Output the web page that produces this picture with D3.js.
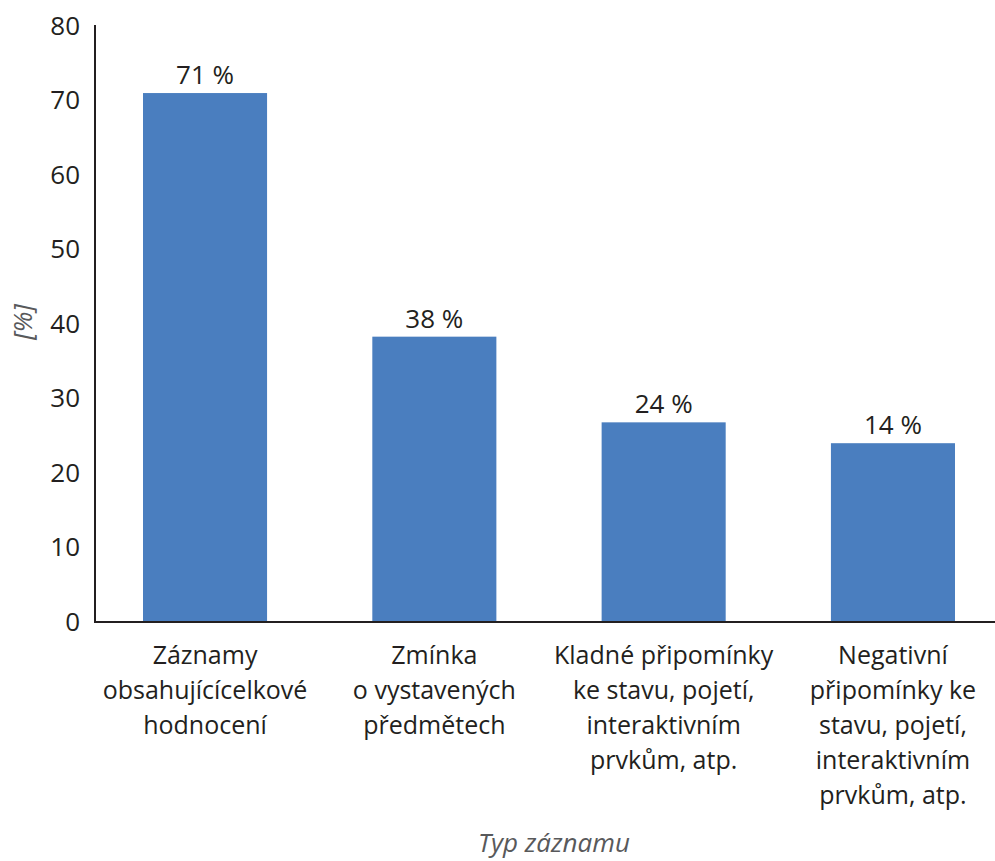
<!DOCTYPE html>
<html><head><meta charset="utf-8">
<script src="https://cdn.jsdelivr.net/npm/d3@7"></script>
<style>
html,body{margin:0;padding:0;background:#fff;}
svg{display:block;font-family:"Open Sans",sans-serif;}
</style></head>
<body><svg id="chart" width="995" height="861"></svg>
<script>
const categories = ["Záznamy obsahujícícelkové hodnocení","Zmínka o vystavených předmětech","Kladné připomínky ke stavu, pojetí, interaktivním prvkům, atp.","Negativní připomínky ke stavu, pojetí, interaktivním prvkům, atp."];
const categoryLines = [
  ["Záznamy","obsahujícícelkové","hodnocení"],
  ["Zmínka","o vystavených","předmětech"],
  ["Kladné připomínky","ke stavu, pojetí,","interaktivním","prvkům, atp."],
  ["Negativní","připomínky ke","stavu, pojetí,","interaktivním","prvkům, atp."]
];
const values = [71, 38.3, 26.8, 24];
const valueLabels = ["71 %","38 %","24 %","14 %"];
const yTicks = [0,10,20,30,40,50,60,70,80];
const xTitle = "Typ záznamu";
const yTitle = "[%]";

const svg = d3.select("#chart");
const textColor = "#231f20";
const titleColor = "#58595b";
const barColor = "#4a7ebf";

const x = d3.scaleBand().domain(categories).range([96, 1002]).paddingInner(0.459).paddingOuter(0.205);
const y = d3.scaleLinear().domain([0, 80]).range([622, 26]);

// bars
svg.append("g").selectAll("rect").data(values).join("rect")
  .attr("x", (d,i) => x(categories[i]))
  .attr("y", d => y(d))
  .attr("width", x.bandwidth())
  .attr("height", d => y(0) - y(d))
  .attr("fill", barColor);

// value labels
svg.append("g").selectAll("text").data(values).join("text")
  .attr("x", (d,i) => x(categories[i]) + x.bandwidth()/2)
  .attr("y", d => y(d) - 9)
  .attr("text-anchor", "middle")
  .attr("font-size", 26)
  .attr("fill", textColor)
  .text((d,i) => valueLabels[i]);

// y axis
const yAxis = d3.axisLeft(y).tickValues(yTicks).tickSize(0).tickPadding(15);
const gy = svg.append("g").attr("transform", "translate(95,0)").call(yAxis);
gy.select(".domain").attr("stroke", textColor).attr("stroke-width", 2).attr("d", `M0,${y(80)-1}V${y(0)}`);
gy.selectAll("text").attr("font-size", 26).attr("fill", textColor).attr("font-family", "Open Sans, sans-serif");

// x axis
const xAxis = d3.axisBottom(x).tickSize(0).tickFormat("");
const gx = svg.append("g").attr("transform", `translate(0,${y(0)})`).call(xAxis);
gx.select(".domain").attr("stroke", textColor).attr("stroke-width", 2).attr("d", "M94,0H995");

// category labels
categories.forEach((c, i) => {
  const cx = x(c) + x.bandwidth()/2;
  const t = svg.append("text")
    .attr("text-anchor", "middle")
    .attr("font-size", 25)
    .attr("fill", textColor);
  categoryLines[i].forEach((ln, j) => {
    t.append("tspan").attr("x", cx).attr("y", 664 + j*35).text(ln);
  });
});

// titles
svg.append("text").attr("x", 554).attr("y", 852).attr("text-anchor", "middle")
  .attr("font-size", 26).attr("font-style", "italic").attr("fill", titleColor).text(xTitle);
svg.append("text").attr("transform", "translate(32,322) rotate(-90)").attr("text-anchor", "middle")
  .attr("font-size", 26).attr("font-style", "italic").attr("fill", titleColor).text(yTitle);
</script></body></html>
